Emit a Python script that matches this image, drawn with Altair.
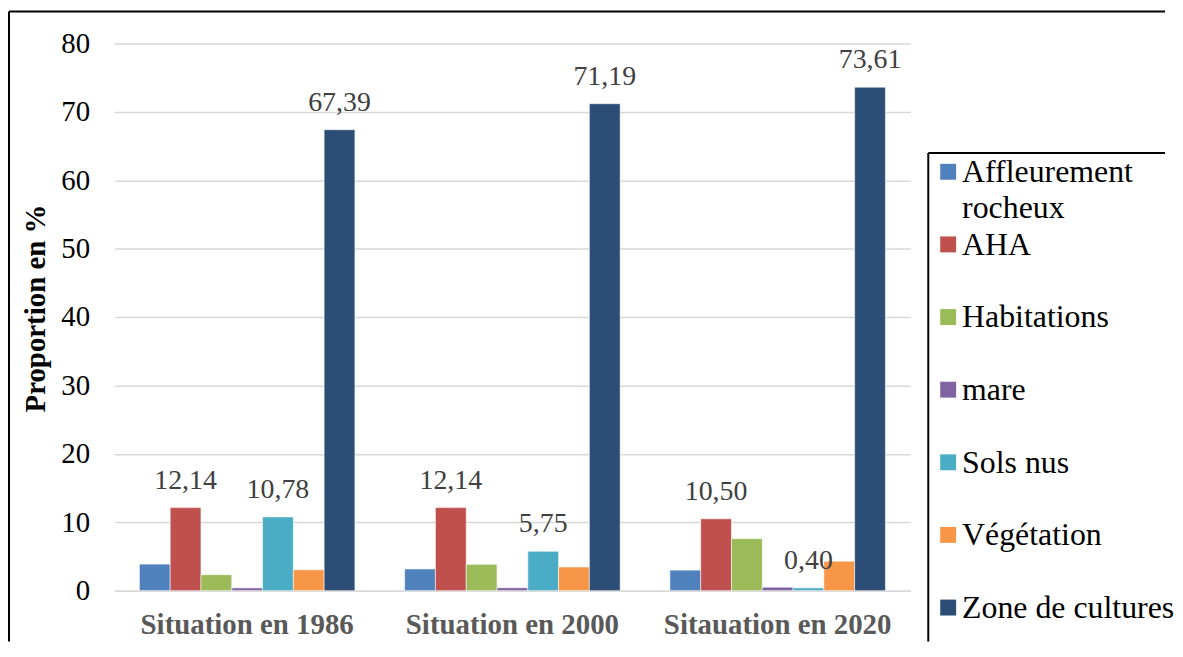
import altair as alt
import pandas as pd

periods = ["Situation en 1986", "Situation en 2000", "Sitauation en 2020"]
categories = ["Affleurement rocheux", "AHA", "Habitations", "mare", "Sols nus", "Végétation", "Zone de cultures"]
legend_labels = ["Affleurement\nrocheux", "AHA", "Habitations", "mare", "Sols nus", "Végétation", "Zone de cultures"]
colors = ["#4F81BD", "#C0504D", "#9BBB59", "#8064A2", "#4BACC6", "#F79646", "#2C4D75"]
v1986 = [3.88, 12.14, 2.33, 0.40, 10.78, 3.05, 67.39]
v2000 = [3.17, 12.14, 3.85, 0.42, 5.75, 3.46, 71.19]
v2020 = [3.00, 10.50, 7.60, 0.50, 0.40, 4.30, 73.61]
labelled = ["AHA", "Sols nus", "Zone de cultures"]
y_ticks = [0, 10, 20, 30, 40, 50, 60, 70, 80]

rows = []
for p, vals in zip(periods, [v1986, v2000, v2020]):
    for c, v in zip(categories, vals):
        rows.append({"period": p, "cat": c, "value": v,
                     "label": f"{v:.2f}".replace(".", ",") if c in labelled else ""})
df = pd.DataFrame(rows)
ldf = pd.DataFrame({"cat": categories, "text": legend_labels})
fdf = pd.DataFrame({"k": [0]})

FONT = "Liberation Serif"
color_scale = alt.Scale(domain=categories, range=colors)

x_enc = alt.X("period:N", sort=periods,
              scale=alt.Scale(paddingInner=0.1875, paddingOuter=0.094),
              axis=alt.Axis(title=None, labelFont=FONT, labelFontSize=29, labelFontWeight="bold",
                            labelColor="#595959", ticks=False, tickSize=0, domainColor="#d9d9d9",
                            domainWidth=1.5, labelPadding=20, labelAngle=0, labelLimit=0))
xo = alt.XOffset("cat:N", sort=categories, scale=alt.Scale(paddingInner=0, paddingOuter=0))
y_scale = alt.Scale(domain=[0, 80], nice=False)
y_enc = alt.Y("value:Q", scale=y_scale,
              axis=alt.Axis(values=y_ticks, title="Proportion en %", titleFont=FONT, titleFontSize=29,
                            titleFontWeight="bold", titleColor="black", titleAngle=270,
                            titleAlign="center", titleBaseline="middle", titleX=-79, titleY=266,
                            labelFont=FONT, labelFontSize=29, labelColor="black", labelPadding=25,
                            ticks=False, tickSize=0, domain=False, grid=True,
                            gridColor="#d9d9d9", gridWidth=1.5))

bars = alt.Chart(df).mark_bar(stroke="white", strokeWidth=0.8, strokeOpacity=0.7).encode(
    x=x_enc, xOffset=xo, y=y_enc,
    color=alt.Color("cat:N", scale=color_scale, legend=None))

labels = alt.Chart(df).transform_filter("datum.label != ''").mark_text(
    font=FONT, fontSize=28, color="#404040", baseline="alphabetic", dy=-19).encode(
    x=x_enc, xOffset=xo, y=alt.Y("value:Q", scale=y_scale), text="label:N")

main = alt.layer(bars, labels)

ly = alt.Y("cat:N", sort=categories,
           scale=alt.Scale(domain=categories, range=[129, 567], padding=0), axis=None)
sq = alt.Chart(ldf).mark_square(size=256, opacity=1).encode(
    x=alt.value(838), y=ly, color=alt.Color("cat:N", scale=color_scale, legend=None))
lt = alt.Chart(ldf).mark_text(font=FONT, fontSize=32, align="left", baseline="alphabetic",
                              dy=10.5, lineBreak="\n", lineHeight=36, color="black").encode(
    x=alt.value(852), y=ly, text="text:N")
legend = alt.layer(sq, lt)

rule = dict(color="black", strokeWidth=2)
outer_top = alt.Chart(fdf).mark_rule(**rule).encode(x=alt.value(-106), x2=alt.value(1056), y=alt.value(-32))
outer_left = alt.Chart(fdf).mark_rule(**rule).encode(x=alt.value(-106), y=alt.value(-32), y2=alt.value(601))
leg_top = alt.Chart(fdf).mark_rule(**rule).encode(x=alt.value(818), x2=alt.value(1056), y=alt.value(110))
leg_left = alt.Chart(fdf).mark_rule(**rule).encode(x=alt.value(818), y=alt.value(110), y2=alt.value(601))

chart = alt.layer(main, legend, outer_top, outer_left, leg_top, leg_left).resolve_scale(
    y="independent").properties(
    width=800, height=550,
    padding={"left": 0, "top": 1, "right": 0, "bottom": 0}
).configure_view(strokeWidth=0)

chart.save("out.html", embed_options={"renderer": "svg", "actions": False})
